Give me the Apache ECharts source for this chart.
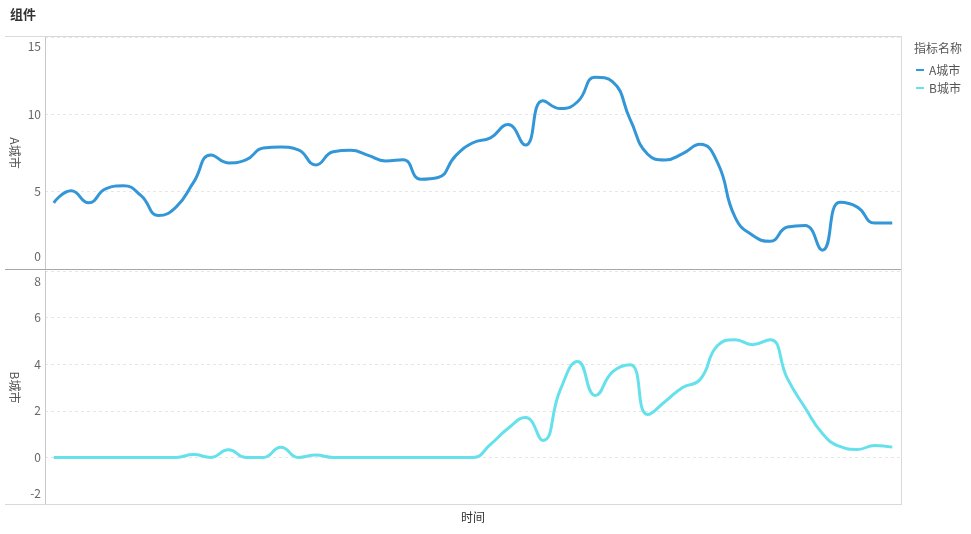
<!DOCTYPE html>
<html><head><meta charset="utf-8">
<script src="https://cdn.jsdelivr.net/npm/echarts@6/dist/echarts.min.js"></script>
<style>html,body{margin:0;padding:0;background:#fff}#c{width:971px;height:534px}</style>
</head><body><div id="c"></div>
<script>
var title = '组件';
var legendTitle = '指标名称';
var seriesNames = ['A城市', 'B城市'];
var xName = '时间';
var categories = [];
for (var k = 1; k <= 49; k++) categories.push('T' + k);
var valuesA = [4.28, 5.06, 4.28, 5.2, 5.38, 4.74, 3.46, 4.0, 5.6, 7.37,
  6.86, 7.05, 7.82, 7.88, 7.7, 6.73, 7.58, 7.67, 7.35, 6.99,
  7.07, 5.81, 5.92, 7.31, 8.16, 8.48, 9.34, 8.01, 10.88, 10.37,
  10.83, 12.4, 12.1, 9.66, 7.42, 7.05, 7.46, 8.06, 6.88, 3.35,
  2.18, 1.79, 2.71, 2.82, 1.22, 4.31, 4.0, 2.97, 2.97];
var valuesB = [0, 0, 0, 0, 0, 0, 0, 0, 0.12, 0,
  0.33, 0, 0, 0.44, 0, 0.1, 0, 0, 0, 0,
  0, 0, 0, 0, 0, 0.56, 1.24, 1.71, 0.73, 2.91,
  4.12, 2.66, 3.68, 3.98, 1.84, 2.4, 3.0, 3.34, 4.8, 5.05,
  4.84, 5.05, 3.38, 2.14, 1.03, 0.47, 0.34, 0.51, 0.44];
var yTicksA = {min: 0, max: 15, interval: 5};
var yTicksB = {min: -2, max: 8, interval: 2};

var colorA = '#3397d7', colorB = '#64e1ea';
var chart = echarts.init(document.getElementById('c'), null, {renderer: 'canvas'});
var font = '"Noto Sans CJK SC", "Noto Sans", sans-serif';
var split = {show: true, lineStyle: {color: '#e6e6e6', type: [3, 3], width: 1}};
function yAxis(idx, t, name, padMin, padMax) {
  return {type: 'value', gridIndex: idx, min: t.min, max: t.max, interval: t.interval,
    name: name, nameLocation: 'middle', nameRotate: -90, nameGap: 24, nameMoveOverlap: false,
    nameTextStyle: {color: '#555', fontSize: 12, fontFamily: font},
    axisLine: {show: true, lineStyle: {color: '#c8c8c8'}}, axisTick: {show: false},
    axisLabel: {color: '#666', fontSize: 12, fontFamily: font, margin: 4,
      verticalAlignMinLabel: 'bottom', verticalAlignMaxLabel: 'top',
      formatter: function (v) {
        if (v === t.min) return '{mn|' + v + '}';
        if (v === t.max) return '{mx|' + v + '}';
        return String(v);
      },
      rich: {
        mn: {color: '#666', fontSize: 12, fontFamily: font, padding: [0, 0, padMin, 0]},
        mx: {color: '#666', fontSize: 12, fontFamily: font, padding: [padMax, 0, 0, 0]}
      }},
    splitLine: split};
}
chart.setOption({
  animation: false,
  textStyle: {fontFamily: font},
  title: {text: title, left: 5, top: 3, textStyle: {fontSize: 13, fontWeight: 'bold', color: '#333', fontFamily: font}},
  legend: {orient: 'vertical', left: 911, top: 59, itemWidth: 8, itemHeight: 2, itemGap: 6,
    icon: 'rect', data: seriesNames,
    textStyle: {color: '#555', fontSize: 12, fontFamily: font}},
  grid: [
    {left: 45, right: 70, top: 37, height: 232, outerBoundsMode: 'none', containLabel: false},
    {left: 45, right: 70, top: 271, height: 233, outerBoundsMode: 'none', containLabel: false}
  ],
  xAxis: [
    {type: 'category', gridIndex: 0, data: categories, boundaryGap: true,
      axisLine: {show: false}, axisTick: {show: false}, axisLabel: {show: false}},
    {type: 'category', gridIndex: 1, data: categories, boundaryGap: true,
      axisLine: {show: false}, axisTick: {show: false}, axisLabel: {show: false},
      name: xName, nameLocation: 'middle', nameGap: 7,
      nameTextStyle: {color: '#333', fontSize: 12, fontFamily: font}}
  ],
  yAxis: [yAxis(0, yTicksA, seriesNames[0], 7, 3), yAxis(1, yTicksB, seriesNames[1], 5, 4)],
  series: [
    {name: seriesNames[0], type: 'line', xAxisIndex: 0, yAxisIndex: 0, data: valuesA,
      smooth: true, showSymbol: false, symbol: 'none', lineStyle: {width: 3, color: colorA}, itemStyle: {color: colorA}},
    {name: seriesNames[1], type: 'line', xAxisIndex: 1, yAxisIndex: 1, data: valuesB,
      smooth: true, showSymbol: false, symbol: 'none', lineStyle: {width: 3, color: colorB}, itemStyle: {color: colorB}}
  ],
  graphic: [
    {type: 'line', shape: {x1: 5, y1: 36.5, x2: 901, y2: 36.5}, style: {stroke: '#d9d9d9', lineWidth: 1}, z: 1},
    {type: 'line', shape: {x1: 5, y1: 504.5, x2: 901, y2: 504.5}, style: {stroke: '#d9d9d9', lineWidth: 1}, z: 1},
    {type: 'line', shape: {x1: 901.5, y1: 36, x2: 901.5, y2: 505}, style: {stroke: '#d9d9d9', lineWidth: 1}, z: 1},
    {type: 'line', shape: {x1: 5, y1: 269.5, x2: 901, y2: 269.5}, style: {stroke: '#a8a8a8', lineWidth: 1}, z: 1},
    {type: 'text', left: 914, top: 42, style: {text: legendTitle, fill: '#555', fontSize: 12, fontFamily: font}}
  ]
});
</script></body></html>
